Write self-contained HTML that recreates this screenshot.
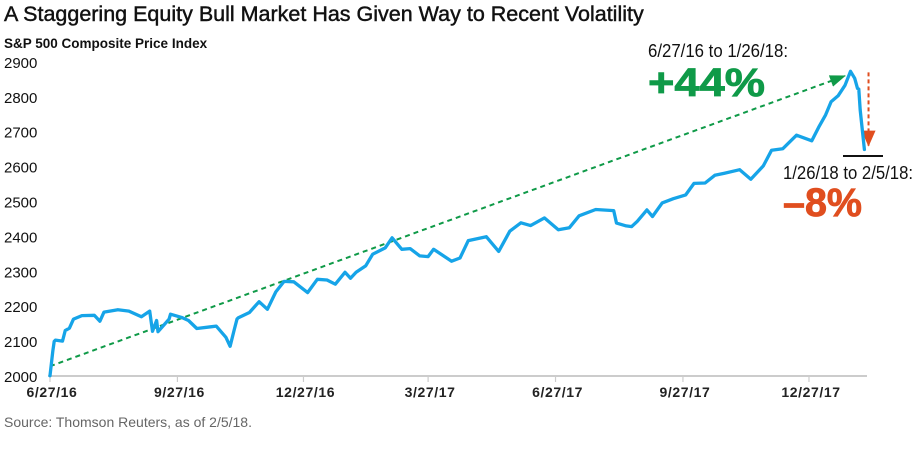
<!DOCTYPE html>
<html><head><meta charset="utf-8"><style>
html,body{margin:0;padding:0;background:#fff;}
body{width:916px;height:450px;overflow:hidden;font-family:"Liberation Sans",sans-serif;}
</style></head><body>
<svg id="chart" width="916" height="450" viewBox="0 0 916 450" xmlns="http://www.w3.org/2000/svg">
<text x="4" y="21" font-size="21.5" fill="#111" stroke="#111" stroke-width="0.45" font-family="Liberation Sans, sans-serif">A Staggering Equity Bull Market Has Given Way to Recent Volatility</text>
<text x="4" y="48" font-size="13.5" font-weight="bold" fill="#111">S&amp;P 500 Composite Price Index</text>
<g id="yaxis"></g>
<g id="xaxis"></g>
<g id="annot"></g>
<g id="series"></g>
<text x="4" y="427" font-size="14" fill="#666">Source: Thomson Reuters, as of 2/5/18.</text>
</svg>
<script>
const dates=["2016-06-27","2016-06-28","2016-06-29","2016-06-30","2016-07-01","2016-07-06","2016-07-08","2016-07-11","2016-07-14","2016-07-20","2016-07-29","2016-08-02","2016-08-05","2016-08-15","2016-08-23","2016-09-01","2016-09-07","2016-09-09","2016-09-12","2016-09-13","2016-09-21","2016-09-22","2016-09-30","2016-10-05","2016-10-11","2016-10-21","2016-10-25","2016-11-01","2016-11-04","2016-11-07","2016-11-09","2016-11-10","2016-11-18","2016-11-25","2016-12-01","2016-12-07","2016-12-13","2016-12-20","2016-12-30","2017-01-06","2017-01-13","2017-01-19","2017-01-26","2017-01-30","2017-02-03","2017-02-10","2017-02-15","2017-02-24","2017-03-01","2017-03-08","2017-03-14","2017-03-21","2017-03-27","2017-03-31","2017-04-13","2017-04-19","2017-04-25","2017-05-08","2017-05-17","2017-05-25","2017-06-02","2017-06-09","2017-06-19","2017-06-29","2017-07-07","2017-07-14","2017-07-26","2017-08-08","2017-08-10","2017-08-17","2017-08-21","2017-08-25","2017-09-01","2017-09-05","2017-09-12","2017-09-20","2017-09-29","2017-10-05","2017-10-13","2017-10-20","2017-10-27","2017-11-07","2017-11-15","2017-11-24","2017-11-30","2017-12-08","2017-12-18","2017-12-29","2018-01-03","2018-01-08","2018-01-12","2018-01-17","2018-01-22","2018-01-26","2018-01-29","2018-01-31","2018-02-01","2018-02-02","2018-02-05"];
const values=[2001,2036,2071,2099,2103,2100,2130,2137,2163,2173,2174,2157,2183,2190,2186,2170,2186,2128,2159,2127,2163,2177,2168,2159,2136,2141,2143,2111,2085,2132,2163,2167,2182,2213,2191,2241,2271,2270,2239,2277,2275,2263,2297,2280,2297,2316,2349,2367,2396,2363,2365,2344,2342,2363,2329,2338,2388,2399,2357,2415,2439,2431,2453,2419,2425,2459,2477,2474,2438,2430,2428,2443,2476,2457,2496,2508,2519,2552,2553,2575,2581,2591,2564,2602,2647,2651,2690,2674,2713,2748,2786,2803,2833,2873,2853,2824,2822,2762,2649];
const yTicks=[2000,2100,2200,2300,2400,2500,2600,2700,2800,2900];
const xTickDates=["2016-06-27","2016-09-27","2016-12-27","2017-03-27","2017-06-27","2017-09-27","2017-12-27"];
const xTickLabels=["6/27/16","9/27/16","12/27/16","3/27/17","6/27/17","9/27/17","12/27/17"];
const gainStart=["2016-06-27",2028];
const gainEnd=["2018-01-22",2860];
const dropStart=["2018-02-08",2870];
const dropEnd=["2018-02-08",2660];

const NS="http://www.w3.org/2000/svg";
const t0=Date.UTC(2016,5,27);
function day(s){const p=s.split("-");return (Date.UTC(+p[0],+p[1]-1,+p[2])-t0)/86400000;}
function X(s){return 50+day(s)*1.385;}
function Y(v){return 376-(v-2000)*0.349;}
function mk(tag,attrs,parent){const e=document.createElementNS(NS,tag);for(const k in attrs)e.setAttribute(k,attrs[k]);parent.appendChild(e);return e;}

const ya=document.getElementById("yaxis");
yTicks.forEach(v=>{
  const t=mk("text",{x:4,y:Y(v)+6,"font-size":15,fill:"#111"},ya);
  
  
  t.textContent=v;
});
const xa=document.getElementById("xaxis");
const base=mk("line",{x1:48,x2:867,y1:376,y2:376,stroke:"#bbb","stroke-width":1.5},xa);


xTickDates.forEach((d,i)=>{
  const tk=mk("line",{x1:X(d),x2:X(d),y1:376,y2:382,stroke:"#ccc","stroke-width":1.2},xa);
  
  
  const t=mk("text",{x:X(d)+2,y:397,"font-size":14,"font-weight":"bold","text-anchor":"middle",fill:"#222","letter-spacing":"0.6"},xa);
  
  
  t.textContent=xTickLabels[i];
});

const an=document.getElementById("annot");
const defs=mk("defs",{},an);
const m1=mk("marker",{id:"ag",markerWidth:16,markerHeight:12,refX:15,refY:6,orient:"auto",markerUnits:"userSpaceOnUse"},defs);
mk("path",{d:"M0,0 L16,6 L0,12 Z",fill:"#0f9a48"},m1);
const m2=mk("marker",{id:"ar",markerWidth:14,markerHeight:16,refX:7,refY:15,orient:"0",markerUnits:"userSpaceOnUse"},defs);
mk("path",{d:"M0,0 L14,0 L7,16 Z",fill:"#e04e1f"},m2);

const gl=mk("line",{x1:X(gainStart[0]),y1:Y(gainStart[1]),x2:X(gainEnd[0]),y2:Y(gainEnd[1]),stroke:"#0f9a48","stroke-width":2,"stroke-dasharray":"5,4","marker-end":"url(#ag)"},an);


const dl=mk("line",{x1:X(dropStart[0]),y1:Y(dropStart[1]),x2:X(dropEnd[0]),y2:Y(dropEnd[1]),stroke:"#e04e1f","stroke-width":2,"stroke-dasharray":"4,3","marker-end":"url(#ar)"},an);


const bl=mk("line",{x1:843,x2:883,y1:156,y2:156,stroke:"#111","stroke-width":2},an);



const series=document.getElementById("series");
const pts=dates.map((d,i)=>X(d).toFixed(1)+","+Y(values[i]).toFixed(1)).join(" ");
const pl=mk("polyline",{points:pts,fill:"none",stroke:"#16a4e8","stroke-width":3.3,"stroke-linejoin":"round","stroke-linecap":"round"},series);



function txt(s,attrs,name){const t=mk("text",attrs,an);t.textContent=s;}
txt("6/27/16 to 1/26/18:",{x:648,y:57,"font-size":18,fill:"#111",textLength:140,lengthAdjust:"spacingAndGlyphs"},"gain-period-label");
txt("+44%",{x:648,y:96,"font-size":40,"font-weight":"bold",fill:"#0f9a48",stroke:"#0f9a48","stroke-width":0.8,textLength:117,lengthAdjust:"spacingAndGlyphs"},"gain-percent");
txt("1/26/18 to 2/5/18:",{x:783,y:179,"font-size":18,fill:"#111",textLength:130,lengthAdjust:"spacingAndGlyphs"},"drop-period-label");
txt("–8%",{x:783,y:216,"font-size":40,"font-weight":"bold",fill:"#e04e1f",stroke:"#e04e1f","stroke-width":0.8,textLength:79,lengthAdjust:"spacingAndGlyphs"},"drop-percent");
</script>
</body></html>
